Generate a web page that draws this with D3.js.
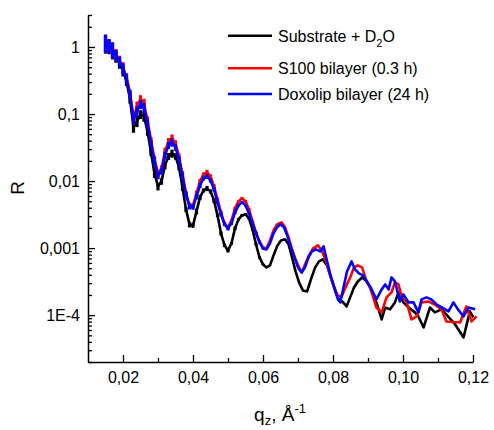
<!DOCTYPE html>
<html>
<head>
<meta charset="utf-8">
<script src="https://cdn.jsdelivr.net/npm/d3@7"></script>
<style>
  body { margin: 0; background: #fff; }
  svg { display: block; }
  text { font-family: "Liberation Sans", Arial, sans-serif; fill: #000; }
</style>
</head>
<body>
<svg id="chart" width="494" height="430"></svg>
<script>
// ---- measured reflectivity, dense low-q region (shared q grid) ----
const qLow = [0.015,0.016,0.017,0.018,0.019,0.020,0.021,0.022,0.023,0.024,
  0.025,0.026,0.027,0.028,0.029,0.030,0.031,0.032,0.033,0.034,
  0.035,0.036,0.037,0.038,0.039,0.040,0.041,0.042,0.043,0.044,
  0.045,0.046,0.047,0.048,0.049,0.050,0.051,0.052,0.053,0.054,
  0.055,0.056,0.057,0.058,0.059,0.060];

const substrateLow = [1.136,1.024,0.893,0.727,0.571,0.449,0.308,0.166,0.0633,0.0778,
  0.099,0.0924,0.0552,0.0268,0.0130,0.00834,0.0099,0.0172,0.0234,0.0259,
  0.0234,0.0160,0.00805,0.00378,0.00226,0.00218,0.00353,0.00571,0.00726,0.00778,
  0.00702,0.00515,0.00308,0.00166,0.00110,0.000924,0.00118,0.00197,0.00268,0.00308,
  0.00318,0.00278,0.00190,0.00114,0.000726,0.000571];

const s100Low = [1.175,1.06,0.924,0.778,0.633,0.498,0.353,0.204,0.0893,0.130,
  0.166,0.144,0.0805,0.0405,0.0211,0.0130,0.0155,0.0277,0.0391,0.0434,
  0.0365,0.0234,0.0126,0.00655,0.00434,0.00434,0.00655,0.0099,0.0126,0.0135,
  0.0118,0.00834,0.00533,0.00341,0.00234,0.00204,0.00259,0.00391,0.00498,0.00552,
  0.00498,0.00378,0.00250,0.00171,0.00126,0.00102];

const doxolipLow = [1.175,1.06,0.924,0.752,0.612,0.481,0.341,0.197,0.0833,0.110,
  0.140,0.126,0.0726,0.0365,0.0197,0.0122,0.0140,0.0242,0.0341,0.0378,
  0.0318,0.0211,0.0118,0.00633,0.00419,0.00405,0.00591,0.00863,0.0110,0.0118,
  0.0102,0.00752,0.00481,0.00318,0.00226,0.00197,0.00234,0.00341,0.00434,0.00481,
  0.00434,0.00330,0.00234,0.00166,0.00122,0.00099];

// relative uncertainty of the low-q points (dR / R)
const errLow = [0.30,0.24,0.27,0.20,0.17,0.19,0.15,0.14,0.17,0.18,
  0.15,0.17,0.14,0.12,0.14,0.13,0.11,0.13,0.12,0.14,
  0.11,0.10,0.12,0.09,0.10,0.08,0.10,0.09,0.07,0.09,
  0.07,0.08,0.06,0.07,0.06,0.07,0.05,0.06,0.045,0.05,
  0.045,0.04,0.045,0.04,0.04,0.03];

// ---- high-q region, each measurement on its own q points ----
const qSubstrateHigh = [0.0610,0.0620,0.0630,0.0640,0.0651,0.0663,0.0673,0.0683,0.0693,0.0703,
  0.0714,0.0726,0.0737,0.0749,0.0760,0.0771,0.0783,0.0794,0.0806,0.0817,
  0.0829,0.0839,0.0849,0.0860,0.0871,0.0883,0.0894,0.0906,0.0924,0.0939,
  0.0949,0.0963,0.0977,0.0987,0.1001,0.1016,0.1034,0.1044,0.1059,0.1077,
  0.1091,0.1110,0.1124,0.1149,0.1173,0.1191,0.1201];
const substrateHigh = [0.000515,0.000552,0.000778,0.00106,0.00130,0.00135,0.00114,0.000726,0.000449,0.000308,
  0.000234,0.000226,0.000341,0.000515,0.000633,0.000678,0.000552,0.000365,0.000242,0.000172,
  0.000155,0.000135,0.000184,0.000259,0.000318,0.000365,0.000330,0.000259,0.000155,0.0000863,
  0.000130,0.000122,0.000155,0.000218,0.000155,0.000130,0.000110,0.0000956,0.0000655,0.000130,
  0.000110,0.000122,0.000102,0.0000726,0.0000465,0.000114,0.0000924];

const qS100High = [0.0610,0.0620,0.0630,0.0640,0.0653,0.0663,0.0673,0.0683,0.0693,0.0703,
  0.0711,0.0720,0.0731,0.0743,0.0757,0.0769,0.0780,0.0791,0.0803,0.0814,
  0.0826,0.0837,0.0849,0.0860,0.0871,0.0883,0.0894,0.0906,0.0924,0.0939,
  0.0953,0.0967,0.0977,0.0987,0.0996,0.1010,0.1024,0.1039,0.1053,0.1073,
  0.1091,0.1110,0.1124,0.1163,0.1181,0.1196,0.1210];
const s100High = [0.00099,0.00130,0.00184,0.00226,0.00242,0.00204,0.00144,0.000956,0.000678,0.000515,
  0.000434,0.000571,0.000778,0.00099,0.00110,0.000893,0.000633,0.000405,0.000259,0.000190,
  0.000197,0.000268,0.000365,0.000515,0.000552,0.000515,0.000341,0.000259,0.000130,0.000110,
  0.000184,0.000218,0.000308,0.000287,0.000190,0.000160,0.0000863,0.0000956,0.000155,0.000160,
  0.000144,0.000122,0.0000805,0.0000778,0.000135,0.0000805,0.0000956];

const qDoxolipHigh = [0.0610,0.0620,0.0630,0.0640,0.0650,0.0660,0.0670,0.0680,0.0690,0.0700,
  0.0710,0.0720,0.0730,0.0740,0.0751,0.0763,0.0773,0.0783,0.0793,0.0803,
  0.0814,0.0821,0.0830,0.0840,0.0853,0.0863,0.0874,0.0886,0.0896,0.0906,
  0.0924,0.0939,0.0949,0.0959,0.0967,0.0977,0.0991,0.1001,0.1016,0.1030,
  0.1044,0.1053,0.1067,0.1081,0.1096,0.1111,0.1130,0.1144,0.1157,0.1173,
  0.1187,0.1206];
const doxolipHigh = [0.000956,0.00118,0.00166,0.00204,0.00226,0.00204,0.00150,0.00102,0.000726,0.000515,
  0.000434,0.000515,0.000726,0.000893,0.000956,0.000893,0.00106,0.000633,0.000391,0.000259,
  0.000172,0.000155,0.000259,0.000449,0.000633,0.000481,0.000419,0.000391,0.000318,0.000268,
  0.000172,0.000242,0.000287,0.000242,0.000365,0.000318,0.000160,0.000204,0.000155,0.000155,
  0.000110,0.000172,0.000184,0.000172,0.000144,0.000130,0.000114,0.000155,0.000122,0.0000956,
  0.000130,0.000122];

const seriesNames = ["Substrate + D\u2082O", "S100 bilayer (0.3 h)", "Doxolip bilayer (24 h)"];
const seriesColors = ["#000000", "#ff0000", "#0000ff"];

const xTicks = [0.02, 0.04, 0.06, 0.08, 0.10, 0.12];
const xTickLabels = ["0,02", "0,04", "0,06", "0,08", "0,10", "0,12"];
const xMinorTicks = [0.03, 0.05, 0.07, 0.09, 0.11];
const yTicks = [1e-4, 1e-3, 1e-2, 0.1, 1];
const yTickLabels = ["1E-4", "0,001", "0,01", "0,1", "1"];

// ---- layout ----
const svg = d3.select("#chart");
const x = d3.scaleLinear().domain([0.01, 0.12]).range([88, 473]);
const y = d3.scaleLog().domain([2e-5, 3]).range([362, 15]);

const series = [
  { q: qLow.concat(qSubstrateHigh), r: substrateLow.concat(substrateHigh), low: substrateLow },
  { q: qLow.concat(qS100High),      r: s100Low.concat(s100High),           low: s100Low },
  { q: qLow.concat(qDoxolipHigh),   r: doxolipLow.concat(doxolipHigh),     low: doxolipLow }
];

const line = d3.line().x(d => x(d[0])).y(d => y(d[1]));

const plot = svg.append("g");
series.forEach((s, i) => {
  const pts = s.q.map((q, k) => [q, s.r[k]]);
  const g = plot.append("g");
  // error bars on the dense low-q points
  g.selectAll("line.err")
    .data(qLow.map((q, k) => [q, s.low[k], errLow[k]]))
    .join("line")
    .attr("class", "err")
    .attr("x1", d => x(d[0])).attr("x2", d => x(d[0]))
    .attr("y1", d => y(d[1] * (1 + d[2])))
    .attr("y2", d => y(d[1] * (1 - d[2])))
    .attr("stroke", seriesColors[i])
    .attr("stroke-width", 3.2);
  g.append("path")
    .datum(pts)
    .attr("d", line)
    .attr("fill", "none")
    .attr("stroke", seriesColors[i])
    .attr("stroke-width", 2.6)
    .attr("stroke-linejoin", "round");
});

// ---- axes ----
const axisColor = "#000";
const gx = svg.append("g").attr("transform", "translate(0,362)");
gx.call(d3.axisBottom(x).tickValues(xTicks).tickFormat((d, i) => xTickLabels[i])
  .tickSizeInner(-7).tickSizeOuter(0).tickPadding(10));
gx.append("g").call(d3.axisBottom(x).tickValues(xMinorTicks).tickFormat("")
  .tickSizeInner(-4).tickSizeOuter(0))
  .call(g => g.select(".domain").remove());

const minorY = [];
for (let e = -5; e <= 0; e++) {
  for (let k = 2; k <= 9; k++) {
    const v = k * Math.pow(10, e);
    if (v >= 2e-5 && v <= 3) minorY.push(v);
  }
}
const gy = svg.append("g").attr("transform", "translate(88,0)");
gy.call(d3.axisLeft(y).tickValues(yTicks).tickFormat((d, i) => yTickLabels[i])
  .tickSizeInner(-7).tickSizeOuter(0).tickPadding(8));
gy.append("g").call(d3.axisLeft(y).tickValues(minorY).tickFormat("")
  .tickSizeInner(-4).tickSizeOuter(0))
  .call(g => g.select(".domain").remove());

[gx, gy].forEach(g => {
  g.selectAll(".domain").attr("stroke", axisColor).attr("stroke-width", 1.5);
  g.selectAll(".tick line").attr("stroke", axisColor).attr("stroke-width", 1.3);
  g.selectAll(".tick text").attr("font-size", 16).attr("fill", "#000")
    .attr("font-family", "'Liberation Sans', Arial, sans-serif");
});

// axis titles
svg.append("text")
  .attr("transform", "translate(24,188) rotate(-90)")
  .attr("text-anchor", "middle")
  .attr("font-size", 19)
  .text("R");

const xt = svg.append("text")
  .attr("x", 280).attr("y", 421)
  .attr("text-anchor", "middle")
  .attr("font-size", 19);
xt.append("tspan").text("q");
xt.append("tspan").attr("font-size", 13).attr("dy", 4).text("z");
xt.append("tspan").attr("dy", -4).text(", \u00C5");
xt.append("tspan").attr("font-size", 13).attr("dy", -8).text("-1");

// ---- legend ----
const legendY = [35.7, 68.3, 94];
const legend = svg.append("g");
seriesNames.forEach((name, i) => {
  legend.append("line")
    .attr("x1", 228).attr("x2", 272)
    .attr("y1", legendY[i]).attr("y2", legendY[i])
    .attr("stroke", seriesColors[i]).attr("stroke-width", 2.6);
  const t = legend.append("text")
    .attr("x", 278).attr("y", legendY[i] + 6)
    .attr("font-size", 16);
  if (i === 0) {
    t.append("tspan").text("Substrate + D");
    t.append("tspan").attr("font-size", 11).attr("dy", 5).text("2");
    t.append("tspan").attr("dy", -5).text("O");
  } else {
    t.text(name);
  }
});
</script>
</body>
</html>
